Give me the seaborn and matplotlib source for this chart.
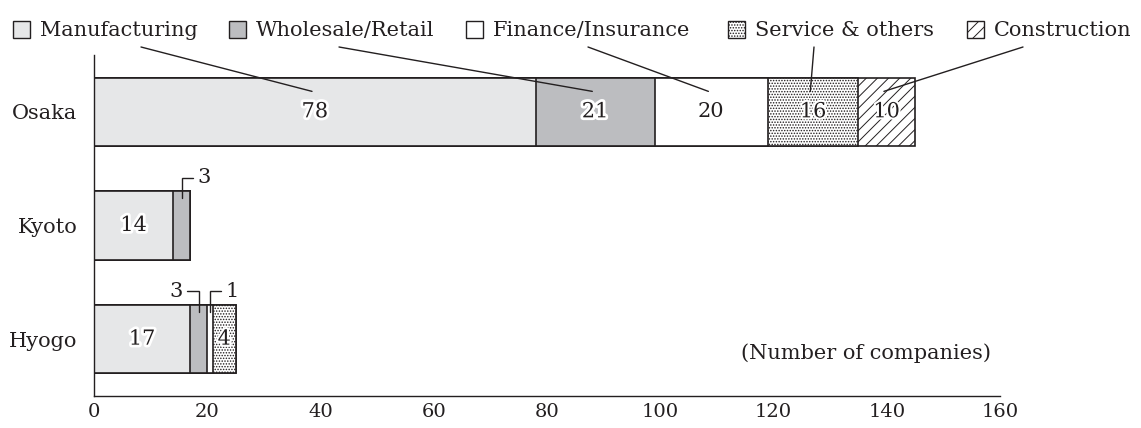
import numpy as np
import pandas as pd
import matplotlib
matplotlib.use("Agg")
import matplotlib.pyplot as plt
import matplotlib.patheffects as pe
from matplotlib.patches import Rectangle
import seaborn as sns

# ---------------- data ----------------
regions = ["Osaka", "Kyoto", "Hyogo"]
industries = ["Manufacturing", "Wholesale/Retail", "Finance/Insurance",
              "Service & others", "Construction"]
manufacturing = [78, 14, 17]
wholesale = [21, 3, 3]
finance = [20, 0, 1]
service = [16, 0, 4]
construction = [10, 0, 0]
x_ticks = [0, 20, 40, 60, 80, 100, 120, 140, 160]
unit_label = "(Number of companies)"

# ---------------- style ----------------
INK = "#231f20"
colors = ["#e6e7e8", "#bcbdc0", "#ffffff", "#ffffff", "#ffffff"]
hatches = [None, None, None, "......", "///"]

sns.set_theme(style="white")
plt.rcParams["font.family"] = ["DejaVu Serif"]
plt.rcParams["hatch.linewidth"] = 0.7
plt.rcParams["hatch.color"] = INK

W, H = 1141, 428
fig = plt.figure(figsize=(W / 100, H / 100), dpi=100)
ax = fig.add_axes([94 / W, 1 - 396 / H, 906 / W, 341 / H])

series = np.array([manufacturing, wholesale, finance, service, construction])
cum = np.cumsum(series, axis=0)
left = cum - series

# stacked bars via overlapping cumulative seaborn bars (largest first)
for i in reversed(range(len(industries))):
    df = pd.DataFrame({"region": regions, "value": cum[i]})
    sns.barplot(data=df, x="value", y="region", orient="y", color=colors[i],
                saturation=1, width=0.6, edgecolor=INK, linewidth=1.2,
                hatch=hatches[i], errorbar=None, ax=ax)

ax.set_xlim(0, 160)
ax.set_ylim(2.5, -0.5)
ax.set_xticks(x_ticks)
ax.set_xticklabels([str(t) for t in x_ticks])
ax.set_xlabel("")
ax.set_ylabel("")
for s in ["top", "right"]:
    ax.spines[s].set_visible(False)
for s in ["left", "bottom"]:
    ax.spines[s].set_color(INK)
    ax.spines[s].set_linewidth(1.0)
ax.tick_params(axis="x", direction="in", length=7, width=1, color=INK,
               labelsize=14, labelcolor=INK, pad=5)
ax.tick_params(axis="y", length=0, labelsize=15, labelcolor=INK, pad=12)

# ---------------- value labels ----------------
stroke_w = [4, 4, 0, 3, 3]
bracket_side = {(1, 1): "right", (2, 1): "left", (2, 2): "right"}
for i in range(len(industries)):
    for r in range(len(regions)):
        v = series[i, r]
        if v == 0:
            continue
        cx = left[i, r] + v / 2
        if (r, i) in bracket_side:
            side = bracket_side[(r, i)]
            y0 = r - 0.24
            y1 = r - 0.42
            dx = 2.0 if side == "right" else -2.0
            ax.plot([cx, cx, cx + dx], [y0, y1, y1], color=INK, lw=1.0,
                    solid_joinstyle="miter", clip_on=False)
            ax.text(cx + dx + (0.8 if side == "right" else -0.8), y1, str(v),
                    ha="left" if side == "right" else "right", va="center",
                    fontsize=15, color=INK)
        else:
            t = ax.text(cx, r, str(v), ha="center", va="center",
                        fontsize=15, color=INK)
            if stroke_w[i]:
                t.set_path_effects([pe.withStroke(linewidth=stroke_w[i],
                                                  foreground="white")])

ax.text(0.99, 0.126, unit_label, transform=ax.transAxes, ha="right",
        va="center", fontsize=15, color=INK)

# ---------------- legend (manual) ----------------
box_x = [13, 229, 466, 728, 967]
for i, name in enumerate(industries):
    fig.patches.append(Rectangle((box_x[i] / W, 1 - 38 / H), 17 / W, 17 / H,
                                 transform=fig.transFigure,
                                 facecolor=colors[i], edgecolor=INK, lw=1.0,
                                 hatch=hatches[i]))
    fig.text((box_x[i] + 27) / W, 1 - 36 / H, name, ha="left",
             va="baseline", fontsize=15, color=INK)

# leader lines from legend to Osaka segments
start_px = [141, 339, 588, 814, 1023]
for i in range(len(industries)):
    cx = left[i, 0] + series[i, 0] / 2
    ax.annotate("", xy=(cx - 0.5, -0.18), xycoords="data",
                xytext=(start_px[i] / W, 1 - 47 / H),
                textcoords="figure fraction",
                arrowprops=dict(arrowstyle="-", color=INK, lw=1.0,
                                shrinkA=0, shrinkB=0),
                annotation_clip=False)

fig.savefig("out.png", dpi=100)
